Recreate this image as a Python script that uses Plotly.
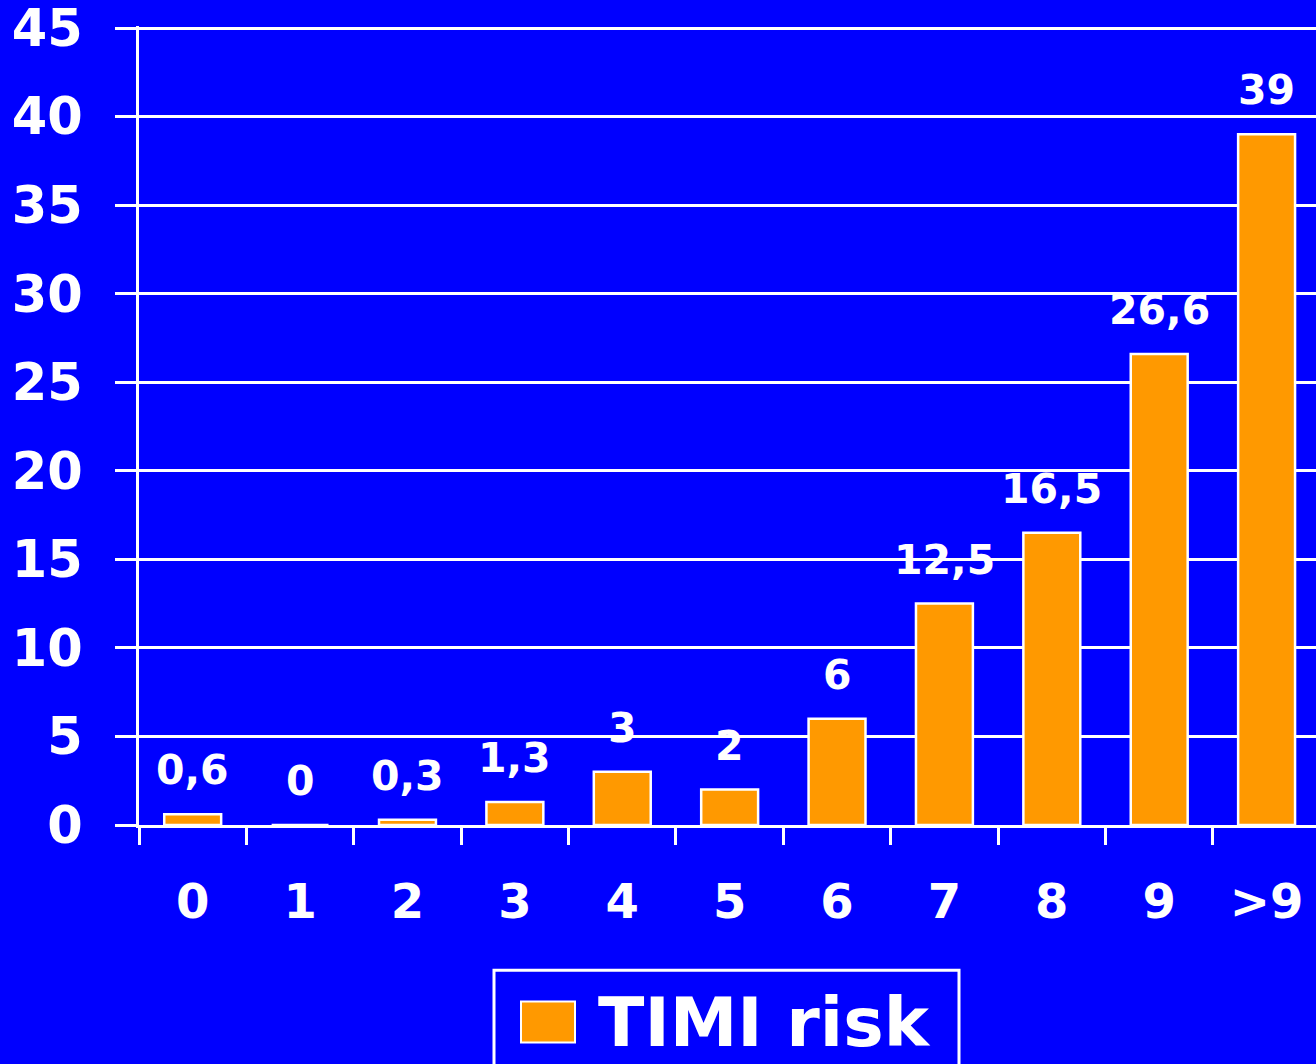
import plotly.graph_objects as go

# TIMI risk score categories and event rate (%)
categories = ["0", "1", "2", "3", "4", "5", "6", "7", "8", "9", ">9"]
rates = [0.6, 0, 0.3, 1.3, 3, 2, 6, 12.5, 16.5, 26.6, 39]
series_name = "TIMI risk"
y_ticks = [0, 5, 10, 15, 20, 25, 30, 35, 40, 45]

BLUE = "#0000FF"
ORANGE = "#FF9900"
WHITE = "#FFFFFF"
FONT = "DejaVu Sans"

W, H = 1316, 1064
L, T, B = 139, 26, 239
Y_TOP = 45 * (H - T - B) / (H - 28 - B)  # leaves room for the 45 gridline


def fmt(v):
    return f"{v:g}".replace(".", ",")


fig = go.Figure()
fig.add_trace(go.Bar(
    x=categories,
    y=rates,
    name=series_name,
    width=0.53,
    marker=dict(color=ORANGE, line=dict(color=WHITE, width=2.5)),
    showlegend=False,
    hoverinfo="skip",
))

# value labels above each bar
for c, v in zip(categories, rates):
    fig.add_annotation(
        x=c, y=v, text=fmt(v), showarrow=False,
        xanchor="center", yanchor="middle", yshift=44,
        font=dict(family=FONT, size=41, color=WHITE, weight="bold"),
    )

# legend box drawn in paper coordinates
pw, ph = W - L, H - 28 - B


def px_x(p):
    return (p - L) / pw


def px_y(p):
    return (H - B - p) / ph


fig.add_shape(type="rect", xref="paper", yref="paper",
              x0=px_x(494), x1=px_x(959), y0=px_y(970), y1=px_y(1090),
              line=dict(color=WHITE, width=3), fillcolor=BLUE, layer="above")
fig.add_shape(type="rect", xref="paper", yref="paper",
              x0=px_x(521), x1=px_x(575), y0=px_y(1001), y1=px_y(1042),
              line=dict(color=WHITE, width=2), fillcolor=ORANGE, layer="above")
fig.add_annotation(xref="paper", yref="paper", x=px_x(596), y=px_y(1022),
                   text=series_name, showarrow=False,
                   xanchor="left", yanchor="middle",
                   font=dict(family=FONT, size=68, color=WHITE, weight="bold"))

fig.update_layout(
    width=W, height=H,
    margin=dict(l=L, r=0, t=T, b=B, pad=0),
    paper_bgcolor=BLUE, plot_bgcolor=BLUE,
    bargap=0.47,
)
fig.update_xaxes(
    type="category",
    range=[-0.5, 10.46],
    tickson="boundaries",
    ticks="outside", ticklen=17, tickwidth=3, tickcolor=WHITE,
    ticklabelstandoff=32,
    tickfont=dict(family=FONT, size=48, color=WHITE, weight="bold"),
    showgrid=False, zeroline=False,
    showline=True, linecolor=WHITE, linewidth=3,
    fixedrange=True,
)
fig.update_yaxes(
    range=[0, Y_TOP],
    tickmode="array", tickvals=y_ticks,
    ticks="outside", ticklen=21, tickwidth=2.5, tickcolor=WHITE,
    ticklabelstandoff=22,
    ticklabeloverflow="allow",
    tickfont=dict(family=FONT, size=51, color=WHITE, weight="bold"),
    showgrid=True, gridcolor=WHITE, gridwidth=2.5,
    zeroline=False,
    showline=True, linecolor=WHITE, linewidth=3,
    fixedrange=True,
)

fig.write_html("out.html", config={"displayModeBar": False})
